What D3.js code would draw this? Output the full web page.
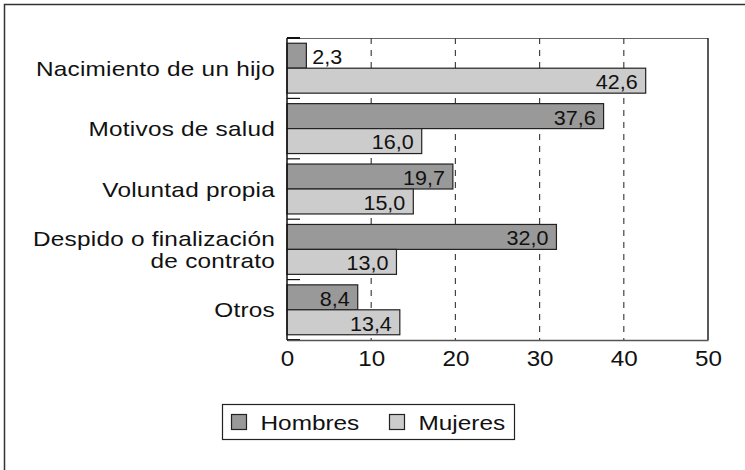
<!DOCTYPE html>
<html>
<head>
<meta charset="utf-8">
<script src="https://cdn.jsdelivr.net/npm/d3@7"></script>
<style>
  body { margin: 0; background: #fff; overflow: hidden; }
  text { font-family: "Liberation Sans", Arial, sans-serif; fill: #111; }
</style>
</head>
<body>
<div id="chart"></div>
<script>
// Data
const categories = [
    ["Nacimiento de un hijo"],
    ["Motivos de salud"],
    ["Voluntad propia"],
    ["Despido o finalización", "de contrato"],
    ["Otros"]
];
const hombres = [2.3, 37.6, 19.7, 32.0, 8.4];
const mujeres = [42.6, 16.0, 15.0, 13.0, 13.4];
const seriesNames = ["Hombres", "Mujeres"];
const xTicks = [0, 10, 20, 30, 40, 50];

const colors = { Hombres: '#999999', Mujeres: '#cccccc' };

const width = 745, height = 470;
const margin = { top: 38, right: 37, bottom: 130, left: 287 };
const innerWidth = width - margin.left - margin.right;
const innerHeight = height - margin.top - margin.bottom;

// the original lettering is a wide grotesque, so stretch Liberation Sans a bit
const stretch = 1.16;

const svg = d3.select('#chart')
    .append('svg')
    .attr('width', width)
    .attr('height', height);

// Outer frame: only top and left edges show on the page
svg.append('path')
    .attr('d', `M4.5,${height}V4.5H${width}`)
    .attr('fill', 'none')
    .attr('stroke', '#333')
    .attr('stroke-width', 1.5);

const g = svg.append('g')
    .attr('transform', `translate(${margin.left},${margin.top})`);

const x = d3.scaleLinear().domain([0, 50]).range([0, innerWidth]);
const y = d3.scaleBand().domain(d3.range(categories.length)).range([0, innerHeight]);
const ySub = d3.scaleBand().domain(seriesNames).range([0, y.bandwidth()]).paddingOuter(0.21).paddingInner(0);

// Plot frame (top / right)
g.append('line')
    .attr('x1', 0).attr('x2', innerWidth).attr('y1', 0.5).attr('y2', 0.5)
    .attr('stroke', '#666').attr('stroke-width', 1);
g.append('line')
    .attr('x1', innerWidth).attr('x2', innerWidth).attr('y1', 0).attr('y2', innerHeight)
    .attr('stroke', '#222').attr('stroke-width', 1.5);

// Dashed gridlines
g.selectAll('.grid')
    .data(xTicks.slice(1, -1))
    .join('line')
    .attr('class', 'grid')
    .attr('x1', d => x(d)).attr('x2', d => x(d))
    .attr('y1', 0).attr('y2', innerHeight)
    .attr('stroke', '#444')
    .attr('stroke-width', 1.2)
    .attr('stroke-dasharray', '6,6');

// Bars
const data = categories.map((c, i) => ({ i, values: [
    { key: 'Hombres', value: hombres[i] },
    { key: 'Mujeres', value: mujeres[i] }
]}));

const groups = g.selectAll('.cat')
    .data(data)
    .join('g')
    .attr('transform', d => `translate(0,${y(d.i)})`);

groups.selectAll('rect')
    .data(d => d.values)
    .join('rect')
    .attr('x', 0)
    .attr('y', d => ySub(d.key))
    .attr('width', d => x(d.value))
    .attr('height', ySub.bandwidth())
    .attr('fill', d => colors[d.key])
    .attr('stroke', '#222')
    .attr('stroke-width', 1.2);

// Value labels: inside the bar end, outside if the bar is too short
const fmt = v => v.toFixed(1).replace('.', ',');
groups.selectAll('.val')
    .data(d => d.values)
    .join('text')
    .attr('class', 'val')
    .attr('transform', d => {
        const tx = d.value < 5 ? x(d.value) + 6 : x(d.value) - 8;
        const ty = ySub(d.key) + ySub.bandwidth() / 2 + 1;
        return `translate(${tx},${ty}) scale(1.05,1)`;
    })
    .attr('dy', '0.36em')
    .attr('text-anchor', d => d.value < 5 ? 'start' : 'end')
    .style('font-size', '20.5px')
    .text(d => fmt(d.value));

// Category boundary ticks (inside)
g.selectAll('.ctick')
    .data(d3.range(categories.length + 1))
    .join('line')
    .attr('class', 'ctick')
    .attr('x1', 0).attr('x2', 13)
    .attr('y1', d => d * y.step()).attr('y2', d => d * y.step())
    .attr('stroke', '#111')
    .attr('stroke-width', d => (d === 0 || d === categories.length) ? 2 : 1.2);

// Left axis line
g.append('line')
    .attr('x1', 0).attr('x2', 0).attr('y1', 0).attr('y2', innerHeight)
    .attr('stroke', '#111').attr('stroke-width', 1.5);

// Category labels
groups.append('text')
    .attr('transform', `translate(-12,${y.bandwidth() / 2}) scale(${stretch},1)`)
    .attr('text-anchor', 'end')
    .style('font-size', '21px')
    .style('letter-spacing', '0.2px')
    .each(function(d) {
        const lines = categories[d.i];
        const t = d3.select(this);
        const lh = 22;
        lines.forEach((l, k) => {
            t.append('tspan')
                .attr('x', 0)
                .attr('y', (k - (lines.length - 1) / 2) * lh)
                .attr('dy', '0.36em')
                .text(l);
        });
    });

// Bottom axis
const xAxis = d3.axisBottom(x).tickValues(xTicks).tickSize(0).tickPadding(10).tickFormat(d3.format('d'));
const ax = g.append('g')
    .attr('transform', `translate(0,${innerHeight})`)
    .call(xAxis);
ax.select('.domain').attr('stroke', '#555').attr('stroke-width', 1.5);
ax.selectAll('.tick line').remove();
ax.selectAll('text')
    .attr('y', 0)
    .attr('transform', 'translate(0,18) scale(1.1,1)')
    .attr('dy', '0.36em')
    .style('font-size', '22px')
    .style('font-family', '"Liberation Sans", Arial, sans-serif')
    .attr('fill', '#111');

// Legend
const legend = svg.append('g').attr('transform', 'translate(222.5,404.5)');
legend.append('rect')
    .attr('width', 292).attr('height', 35)
    .attr('fill', '#fff')
    .attr('stroke', '#222')
    .attr('stroke-width', 1.2);
const legX = d3.scaleOrdinal().domain(seriesNames).range([9, 167]);
const li = legend.selectAll('.li')
    .data(seriesNames)
    .join('g')
    .attr('transform', d => `translate(${legX(d)},0)`);
li.append('rect')
    .attr('y', 10).attr('width', 15).attr('height', 15)
    .attr('fill', d => colors[d])
    .attr('stroke', '#222')
    .attr('stroke-width', 1.2);
li.append('text')
    .attr('transform', `translate(29,18) scale(${stretch},1)`)
    .attr('dy', '0.36em')
    .style('font-size', '21px')
    .text(d => d);
</script>
</body>
</html>
